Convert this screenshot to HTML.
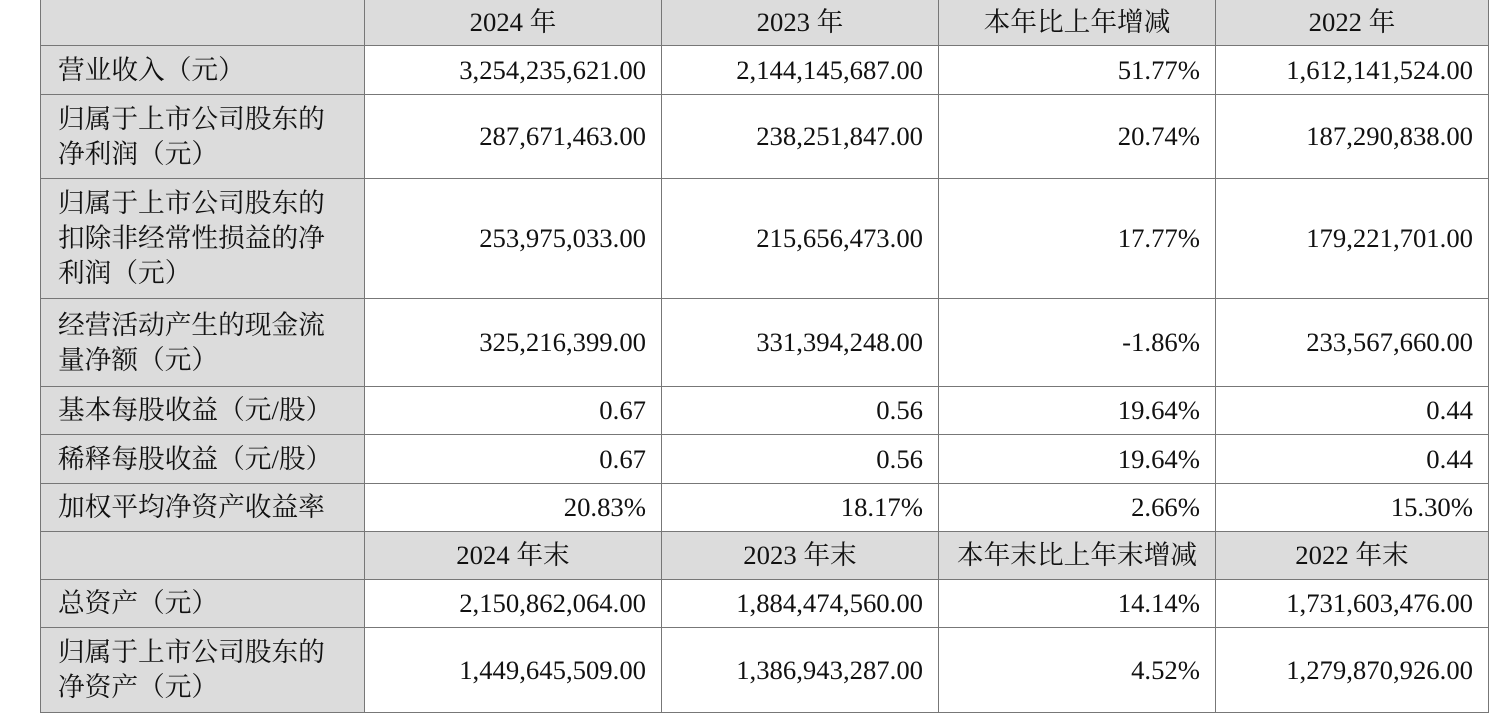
<!DOCTYPE html>
<html><head><meta charset="utf-8"><style>
body{margin:0;background:#fff;width:1497px;height:722px;overflow:hidden;}
table{position:absolute;left:40px;top:-1px;border-collapse:collapse;table-layout:fixed;font-family:"Liberation Serif","Noto Serif CJK SC",serif;font-size:26.7px;color:#111;}
td{border:1.5px solid #777;padding:0 15px 0 17px;text-align:right;line-height:35px;white-space:nowrap;overflow:hidden;}
td:first-child{background:#dcdcdc;text-align:left;}
tr.h td{background:#dcdcdc;text-align:center;padding:0;}
</style></head><body>
<table>
<colgroup><col style="width:324px"><col style="width:297px"><col style="width:277px"><col style="width:277px"><col style="width:273px"></colgroup>
<tr class="h" style="height:46px"><td></td><td>2024 年</td><td>2023 年</td><td>本年比上年增减</td><td>2022 年</td></tr>
<tr style="height:49px"><td>营业收入（元）</td><td>3,254,235,621.00</td><td>2,144,145,687.00</td><td>51.77%</td><td>1,612,141,524.00</td></tr>
<tr style="height:84px"><td>归属于上市公司股东的<br>净利润（元）</td><td>287,671,463.00</td><td>238,251,847.00</td><td>20.74%</td><td>187,290,838.00</td></tr>
<tr style="height:120px"><td>归属于上市公司股东的<br>扣除非经常性损益的净<br>利润（元）</td><td>253,975,033.00</td><td>215,656,473.00</td><td>17.77%</td><td>179,221,701.00</td></tr>
<tr style="height:88px"><td>经营活动产生的现金流<br>量净额（元）</td><td>325,216,399.00</td><td>331,394,248.00</td><td>-1.86%</td><td>233,567,660.00</td></tr>
<tr style="height:48px"><td>基本每股收益（元/股）</td><td>0.67</td><td>0.56</td><td>19.64%</td><td>0.44</td></tr>
<tr style="height:49px"><td>稀释每股收益（元/股）</td><td>0.67</td><td>0.56</td><td>19.64%</td><td>0.44</td></tr>
<tr style="height:48px"><td>加权平均净资产收益率</td><td>20.83%</td><td>18.17%</td><td>2.66%</td><td>15.30%</td></tr>
<tr class="h" style="height:48px"><td></td><td>2024 年末</td><td>2023 年末</td><td>本年末比上年末增减</td><td>2022 年末</td></tr>
<tr style="height:48px"><td>总资产（元）</td><td>2,150,862,064.00</td><td>1,884,474,560.00</td><td>14.14%</td><td>1,731,603,476.00</td></tr>
<tr style="height:85px"><td>归属于上市公司股东的<br>净资产（元）</td><td>1,449,645,509.00</td><td>1,386,943,287.00</td><td>4.52%</td><td>1,279,870,926.00</td></tr>
</table>
</body></html>
